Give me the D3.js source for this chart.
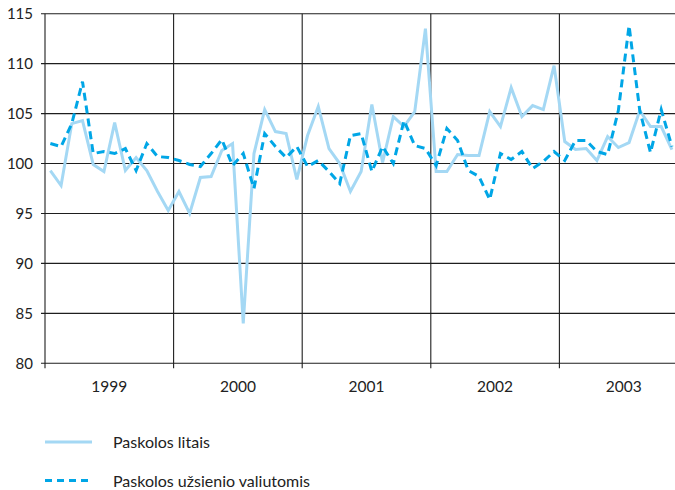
<!DOCTYPE html>
<html>
<head>
<meta charset="utf-8">
<script src="https://cdn.jsdelivr.net/npm/d3@7"></script>
<style>
  html, body { margin: 0; padding: 0; background: #fff; }
  svg { display: block; }
</style>
</head>
<body>
<div id="field"></div>
<script>
'use strict';

// metai (x ašies žymės)
let years = ['1999', '2000', '2001', '2002', '2003'];
let yTicks = [80, 85, 90, 95, 100, 105, 110, 115];
let seriesNames = ['Paskolos litais', 'Paskolos užsienio valiutomis'];

// mėnesiniai indeksai, 1999-01 .. 2003-11
let litais = [
  99.3, 97.8, 104.0, 104.3, 99.9, 99.2, 104.1, 99.3, 100.6, 99.3, 97.2, 95.3,
  97.2, 95.0, 98.6, 98.7, 101.3, 102.0, 84.0, 101.0, 105.4, 103.2, 103.0, 98.4,
  102.8, 105.7, 101.5, 100.0, 97.2, 99.2, 105.9, 100.1, 104.7, 103.7, 105.2, 113.5,
  99.2, 99.2, 100.9, 100.8, 100.8, 105.2, 103.7, 107.6, 104.7, 105.8, 105.4, 109.8,
  102.2, 101.4, 101.5, 100.3, 102.7, 101.6, 102.1, 105.3, 103.7, 103.7, 101.4
];
let valiutomis = [
  102.0, 101.7, 104.0, 108.2, 101.0, 101.2, 101.0, 101.5, 99.3, 102.0, 100.7, 100.6,
  100.3, 99.9, 99.7, 101.0, 102.4, 99.8, 101.0, 97.5, 103.0, 101.7, 100.6, 101.7,
  99.7, 100.3, 99.2, 98.0, 102.8, 103.0, 99.2, 101.7, 100.0, 104.3, 101.8, 101.5,
  99.8, 103.5, 102.3, 99.3, 98.7, 96.4, 101.0, 100.4, 101.2, 99.5, 100.2, 101.2,
  100.3, 102.3, 102.3, 101.2, 100.9, 105.3, 113.8, 105.3, 101.1, 105.4, 101.7
];

let w = 675,
    h = 490,
    pLeft = 45,
    pRight = 675,
    pTop = 13.7,
    pBottom = 363.3,
    font = 'Lato, "Open Sans", sans-serif',
    svg = d3.select('#field').append('svg').attr('width', w).attr('height', h);

// 12 mėnesių vienam metui, taškai mėnesio juostos vidury
let xScale = d3.scaleLinear().domain([0, years.length * 12]).range([pLeft, pLeft + 128.6 * years.length]),
    yScale = d3.scaleLinear().domain([80, 115]).range([pBottom, pTop]);

let grid = svg.append('g').attr('stroke', '#1e1e1e').attr('stroke-width', 1.1);

// horizontalios linijos
grid.selectAll('line.h').data(yTicks).enter().append('line')
  .attr('x1', pLeft - 4)
  .attr('x2', pRight)
  .attr('y1', function(d){ return yScale(d); })
  .attr('y2', function(d){ return yScale(d); });

// vertikalios linijos metų ribose
grid.selectAll('line.v').data(d3.range(years.length)).enter().append('line')
  .attr('x1', function(d){ return xScale(d * 12); })
  .attr('x2', function(d){ return xScale(d * 12); })
  .attr('y1', pTop)
  .attr('y2', pBottom + 5);

svg.selectAll('text.ytick').data(yTicks).enter().append('text')
  .attr('x', 33)
  .attr('y', function(d){ return yScale(d); })
  .attr('dy', '0.36em')
  .attr('text-anchor', 'end')
  .attr('font-family', font)
  .attr('font-size', '15px')
  .attr('fill', '#222')
  .text(function(d){ return d; });

svg.selectAll('text.year').data(years).enter().append('text')
  .attr('x', function(d,i){ return xScale(i * 12 + 6); })
  .attr('y', 392)
  .attr('text-anchor', 'middle')
  .attr('font-family', font)
  .attr('font-size', '15.5px')
  .attr('fill', '#222')
  .text(function(d){ return d; });

let line = d3.line()
  .x(function(d,i){ return xScale(i + 0.5); })
  .y(function(d){ return yScale(d); });

let styles = [
  {data: litais, color: '#a4d8f4', dash: null},
  {data: valiutomis, color: '#00a6e6', dash: '8,5'}
];

styles.forEach(function(s){
  svg.append('path')
    .attr('d', line(s.data))
    .attr('fill', 'none')
    .attr('stroke', s.color)
    .attr('stroke-width', 3)
    .attr('stroke-linejoin', 'miter')
    .attr('stroke-dasharray', s.dash);
});

// legenda
let legendY = [442, 480.5];
styles.forEach(function(s, i){
  svg.append('line')
    .attr('x1', 45)
    .attr('x2', 92)
    .attr('y1', legendY[i])
    .attr('y2', legendY[i])
    .attr('stroke', s.color)
    .attr('stroke-width', 3)
    .attr('stroke-dasharray', s.dash ? '7,5' : null);
  svg.append('text')
    .attr('x', 113)
    .attr('y', legendY[i] + 6)
    .attr('font-family', font)
    .attr('font-size', '16px')
    .attr('fill', '#222')
    .text(seriesNames[i]);
});
</script>
</body>
</html>
